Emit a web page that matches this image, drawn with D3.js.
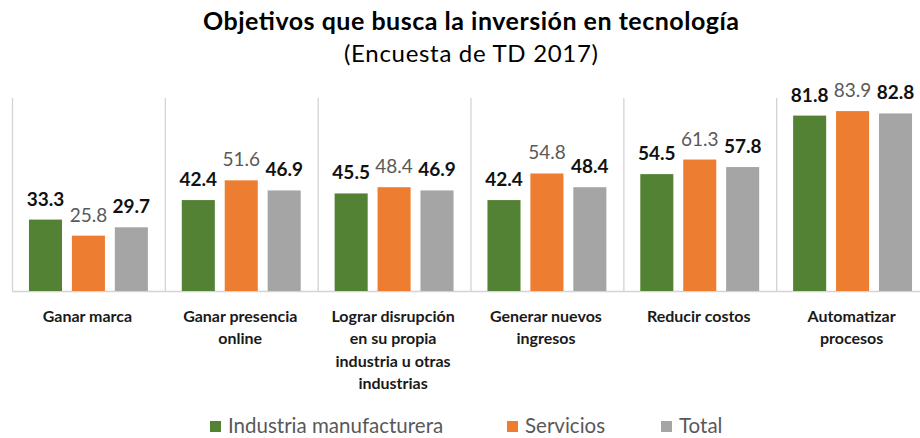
<!DOCTYPE html>
<html>
<head>
<meta charset="utf-8">
<script src="https://cdn.jsdelivr.net/npm/d3@7"></script>
<style>
  body { margin: 0; background: #fff; }
  text { font-family: Lato, "Open Sans", sans-serif; }
</style>
</head>
<body>
<div id="grafico"></div>
<script>
// Datos del gráfico
const categorias = [
  ["Ganar marca"],
  ["Ganar presencia", "online"],
  ["Lograr disrupción", "en su propia", "industria u otras", "industrias"],
  ["Generar nuevos", "ingresos"],
  ["Reducir costos"],
  ["Automatizar", "procesos"]
];
const series = ["Industria manufacturera", "Servicios", "Total"];
const industria = [33.3, 42.4, 45.5, 42.4, 54.5, 81.8];
const servicios = [25.8, 51.6, 48.4, 54.8, 61.3, 83.9];
const total = [29.7, 46.9, 46.9, 48.4, 57.8, 82.8];

const colores = ["#548235", "#ED7D31", "#A5A5A5"];
const colorEtiqueta = ["#111", "#595959", "#111"];
const pesoEtiqueta = ["bold", "normal", "bold"];

const W = 920, H = 438;
const plot = { left: 12, right: 929, top: 98, bottom: 291 };

const svg = d3.select("#grafico")
  .append("svg")
    .attr("width", W)
    .attr("height", H);

// titulo
svg.append("text")
  .attr("x", 471).attr("y", 30)
  .attr("text-anchor", "middle")
  .attr("font-size", "25px")
  .attr("font-weight", "bold")
  .attr("fill", "#000")
  .attr("textLength", 536)
  .attr("lengthAdjust", "spacing")
  .text("Objetivos que busca la inversión en tecnología");

svg.append("text")
  .attr("x", 471).attr("y", 62)
  .attr("text-anchor", "middle")
  .attr("font-size", "24px")
  .attr("fill", "#000")
  .attr("textLength", 254)
  .attr("lengthAdjust", "spacing")
  .text("(Encuesta de TD 2017)");

const idx = d3.range(categorias.length);
const valores = idx.map(i => [industria[i], servicios[i], total[i]]);

const x0 = d3.scaleBand()
  .domain(idx)
  .range([plot.left, plot.right])
  .padding(0);

const bw = x0.bandwidth();
const x1 = d3.scaleBand()
  .domain(d3.range(series.length))
  .range([bw * 0.111, bw * 0.889])
  .paddingInner(0.23);

const y = d3.scaleLinear()
  .domain([0, 90])
  .range([plot.bottom, plot.top]);

// separadores verticales entre categorias
svg.append("g")
  .selectAll("line")
  .data(idx)
  .join("line")
    .attr("x1", d => x0(d) + 0.5)
    .attr("x2", d => x0(d) + 0.5)
    .attr("y1", plot.top)
    .attr("y2", plot.bottom)
    .attr("stroke", "#D4D4D4")
    .attr("stroke-width", 1.3);

// eje x
svg.append("line")
  .attr("x1", plot.left).attr("x2", plot.right)
  .attr("y1", plot.bottom + 0.5).attr("y2", plot.bottom + 0.5)
  .attr("stroke", "#D4D4D4")
  .attr("stroke-width", 1.5);

// barras
const grupos = svg.append("g")
  .selectAll("g")
  .data(idx)
  .join("g")
    .attr("transform", d => "translate(" + x0(d) + ",0)");

grupos.selectAll("rect")
  .data(i => valores[i].map((v, s) => ({ v, s })))
  .join("rect")
    .attr("x", d => x1(d.s))
    .attr("width", x1.bandwidth())
    .attr("y", d => y(d.v))
    .attr("height", d => y(0) - y(d.v))
    .attr("fill", d => colores[d.s]);

grupos.selectAll("text.valor")
  .data(i => valores[i].map((v, s) => ({ v, s })))
  .join("text")
    .attr("class", "valor")
    .attr("x", d => x1(d.s) + x1.bandwidth() / 2)
    .attr("y", d => y(d.v) - 14)
    .attr("text-anchor", "middle")
    .attr("font-size", "19px")
    .attr("font-weight", d => pesoEtiqueta[d.s])
    .attr("fill", d => colorEtiqueta[d.s])
    .text(d => d.v.toFixed(1));

// etiquetas de categoria
const etiquetas = svg.append("g")
  .selectAll("text")
  .data(idx)
  .join("text")
    .attr("text-anchor", "middle")
    .attr("font-size", "16px")
    .attr("font-weight", "bold")
    .attr("fill", "#1a1a1a");

etiquetas.selectAll("tspan")
  .data(i => categorias[i].map(t => ({ t, i })))
  .join("tspan")
    .attr("x", d => x0(d.i) + bw / 2 - 1)
    .attr("y", (d, k) => 322 + k * 22.3)
    .text(d => d.t);

// leyenda
const leyX = [210, 507, 661];
const ley = svg.append("g")
  .selectAll("g")
  .data(series)
  .join("g")
    .attr("transform", (d, i) => "translate(" + leyX[i] + ",421)");

ley.append("rect")
  .attr("width", 11).attr("height", 11)
  .attr("fill", (d, i) => colores[i]);

ley.append("text")
  .attr("x", 18).attr("y", 12)
  .attr("font-size", "20.5px")
  .attr("fill", "#595959")
  .text(d => d);
</script>
</body>
</html>
